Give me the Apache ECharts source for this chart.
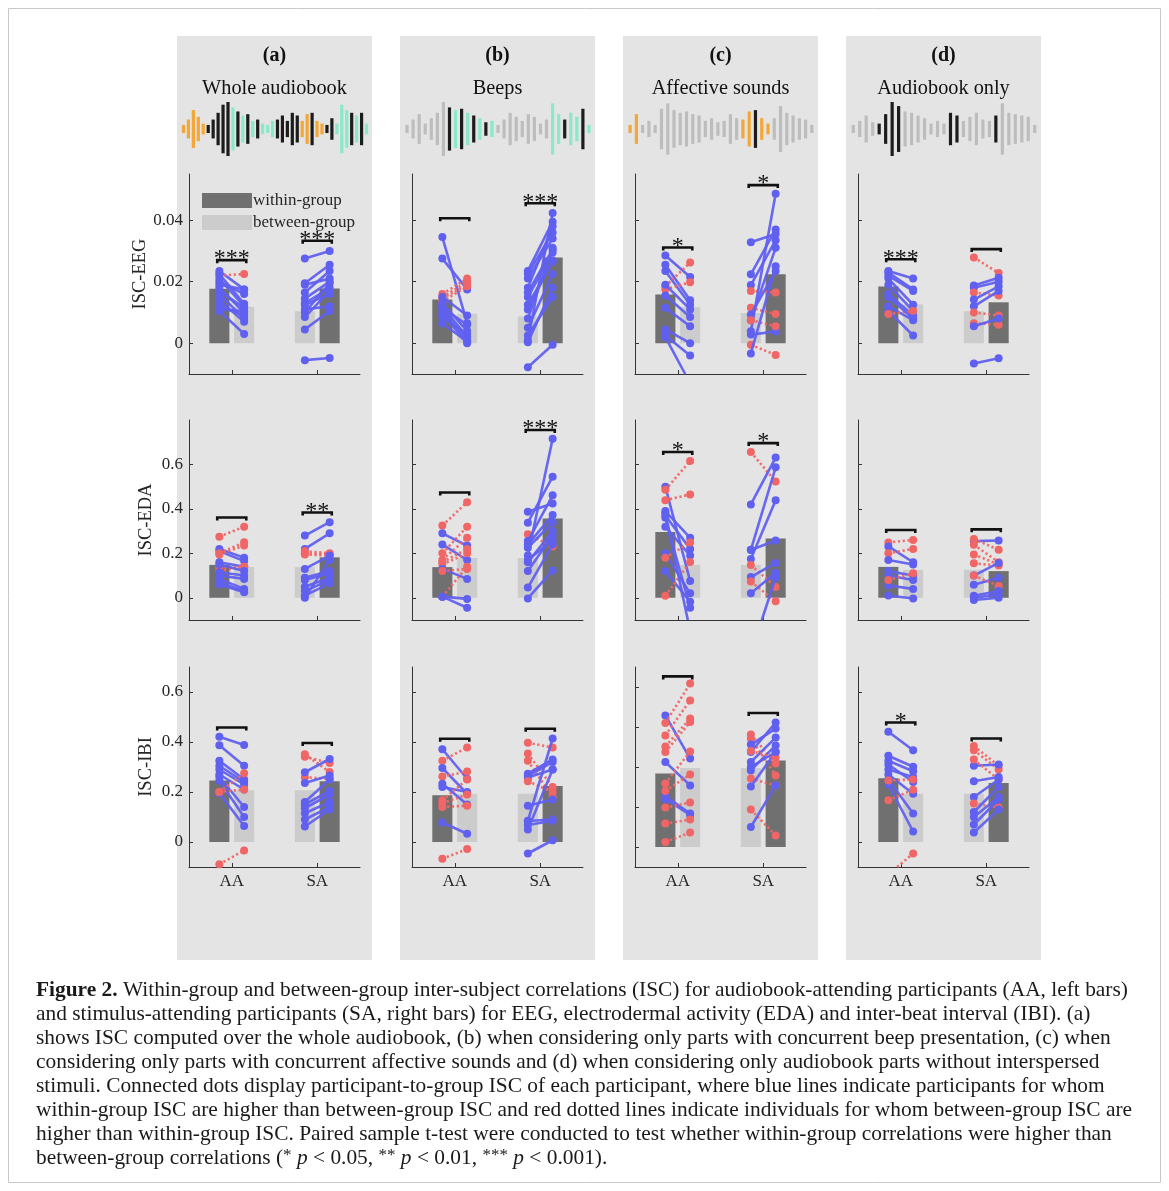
<!DOCTYPE html>
<html><head><meta charset="utf-8">
<script src="https://cdn.jsdelivr.net/npm/echarts@6/dist/echarts.min.js"></script>
<style>html,body{margin:0;padding:0;background:#fff}#c{width:1169px;height:1191px}</style>
</head><body><div id="c"></div><script>
// ================= DATA =================
const groups = ['AA', 'SA'];
const rowNames = ['ISC-EEG', 'ISC-EDA', 'ISC-IBI'];
const panelLetters = ['(a)', '(b)', '(c)', '(d)'];
const panelTitles = ['Whole audiobook', 'Beeps', 'Affective sounds', 'Audiobook only'];
const legendNames = ['within-group', 'between-group'];

const ticksEEG = [0, 0.02, 0.04];
const ticksEDA = [0, 0.2, 0.4, 0.6];
const ticksIBI = [0, 0.2, 0.4, 0.6];
const ticksIBIc = [0, 0.2, 0.4, 0.6, 0.8];
const rangeEEG = [-0.01, 0.055];
const rangeEDA = [-0.1, 0.8];
const rangeIBI = [-0.1, 0.7];
const rangeIBIc = [-0.1, 0.9];

// bar means: columns a,b,c,d
const barEEG_AA_within = [0.0177, 0.0142, 0.0158, 0.0184];
const barEEG_AA_between = [0.0118, 0.0096, 0.0118, 0.0126];
const barEEG_SA_between = [0.0104, 0.0087, 0.0098, 0.0104];
const barEEG_SA_within = [0.0178, 0.0279, 0.0224, 0.0133];
const barEDA_AA_within = [0.148, 0.138, 0.296, 0.139];
const barEDA_AA_between = [0.138, 0.179, 0.148, 0.126];
const barEDA_SA_between = [0.138, 0.179, 0.148, 0.126];
const barEDA_SA_within = [0.182, 0.357, 0.267, 0.120];
const barIBI_AA_within = [0.246, 0.187, 0.367, 0.255];
const barIBI_AA_between = [0.207, 0.193, 0.395, 0.193];
const barIBI_SA_between = [0.207, 0.193, 0.395, 0.193];
const barIBI_SA_within = [0.243, 0.224, 0.433, 0.236];

// significance (number of stars, 0 = n.s.) and bracket height
const sigEEG_AA = [3, 0, 1, 3];  const sigEEG_AA_y = [0.027, 0.0406, 0.0311, 0.0273];
const sigEEG_SA = [3, 3, 1, 0];  const sigEEG_SA_y = [0.0333, 0.0455, 0.0514, 0.0306];
const sigEDA_AA = [0, 0, 1, 0];  const sigEDA_AA_y = [0.361, 0.474, 0.656, 0.305];
const sigEDA_SA = [2, 3, 1, 0];  const sigEDA_SA_y = [0.384, 0.755, 0.696, 0.308];
const sigIBI_AA = [0, 0, 0, 1];  const sigIBI_AA_y = [0.458, 0.413, 0.853, 0.478];
const sigIBI_SA = [0, 0, 0, 0];  const sigIBI_SA_y = [0.396, 0.453, 0.670, 0.414];

// participant values (paired by index)
// ---- EEG ----
const eegA_AA_within  = [0.0235,0.022,0.021,0.020,0.018,0.016,0.012,0.0105,0.011,0.017,0.019,0.014,0.0225];
const eegA_AA_between = [0.0175,0.0225,0.012,0.016,0.010,0.008,0.009,0.003,0.0105,0.0115,0.0175,0.007,0.0128];
const eegA_SA_between = [0.0275,0.0195,0.019,0.0165,0.0145,0.013,0.011,0.010,0.0085,0.0045,-0.0055,0.0125];
const eegA_SA_within  = [0.030,0.0255,0.021,0.0235,0.020,0.018,0.012,0.0195,0.017,0.0105,-0.0048,0.016];
const eegB_AA_within  = [0.0345,0.0275,0.016,0.015,0.0145,0.0135,0.013,0.012,0.0105,0.0095,0.0065,0.0085,0.0115,0.015];
const eegB_AA_between = [0.0065,0.0175,0.021,0.020,0.019,0.0185,0.004,0.002,0.001,0.0,0.0005,0.003,0.006,0.009];
const eegB_SA_between = [0.0235,0.0225,0.021,0.018,0.0165,0.015,0.0125,0.011,0.008,0.005,0.0025,0.001,0.0003,-0.0078];
const eegB_SA_within  = [0.0395,0.036,0.034,0.038,0.0305,0.0295,0.0265,0.027,0.031,0.0225,0.015,0.0423,0.018,-0.0005];
const eegC_AA_within  = [0.0285,0.0255,0.0235,0.0185,0.0175,0.019,0.0155,0.0115,0.0045,0.0025,0.002];
const eegC_AA_between = [0.0215,0.014,0.0125,0.0262,0.0198,0.011,0.0085,0.0055,0.0,-0.004,-0.013];
const eegC_SA_between = [0.0328,0.0224,0.0189,0.017,0.0115,0.0093,0.0075,0.0039,0.0028,0.0075,-0.0005,-0.0033];
const eegC_SA_within  = [0.0355,0.037,0.0335,0.0165,0.0095,0.0235,0.031,0.0486,0.0038,0.0055,-0.0038,0.025];
const eegD_AA_within  = [0.0235,0.023,0.022,0.021,0.019,0.016,0.012,0.0105,0.0095,0.015];
const eegD_AA_between = [0.021,0.0175,0.017,0.0125,0.0105,0.009,0.0075,0.0025,0.0105,0.008];
const eegD_SA_between = [0.0279,0.0188,0.018,0.0165,0.0142,0.012,0.010,0.0065,0.0055,-0.0066];
const eegD_SA_within  = [0.0228,0.0213,0.020,0.0155,0.0185,0.017,0.009,0.006,0.008,-0.0049];
// ---- EDA ----
const edaA_AA_within  = [0.275,0.22,0.21,0.20,0.195,0.16,0.135,0.12,0.115,0.10,0.085,0.07,0.06,0.15];
const edaA_AA_between = [0.32,0.18,0.165,0.25,0.235,0.14,0.14,0.14,0.10,0.085,0.04,0.03,0.025,0.12];
const edaA_SA_between = [0.28,0.22,0.21,0.20,0.195,0.13,0.09,0.08,0.05,0.03,0.01,0.0];
const edaA_SA_within  = [0.34,0.29,0.20,0.195,0.19,0.19,0.12,0.11,0.09,0.08,0.065,0.17];
const edaB_AA_within  = [0.325,0.29,0.24,0.20,0.17,0.16,0.15,0.13,0.005,0.005,0.005,0.12];
const edaB_AA_between = [0.43,0.235,0.17,0.32,0.27,0.22,0.20,0.085,0.14,-0.045,-0.005,0.13];
const edaB_SA_between = [0.387,0.338,0.286,0.255,0.24,0.225,0.19,0.16,0.12,0.046,-0.003,0.17];
const edaB_SA_within  = [0.424,0.545,0.231,0.461,0.372,0.34,0.716,0.30,0.28,0.24,0.123,0.26];
const edaC_AA_within  = [0.5,0.486,0.439,0.39,0.37,0.32,0.2,0.18,0.12,0.009,0.38,0.36];
const edaC_AA_between = [0.075,0.615,0.465,0.27,0.22,0.19,0.02,0.249,-0.018,0.161,-0.15,-0.045];
const edaC_SA_between = [0.656,0.42,0.216,0.175,0.147,0.093,0.073,0.02,0.215,-0.25];
const edaC_SA_within  = [0.523,0.631,0.587,0.439,0.049,0.157,-0.016,0.113,0.258,0.09];
const edaD_AA_within  = [0.249,0.231,0.2,0.17,0.12,0.10,0.055,0.01,0.08];
const edaD_AA_between = [0.26,0.16,0.22,0.15,0.10,0.08,0.04,-0.003,0.11];
const edaD_SA_between = [0.255,0.264,0.239,0.195,0.155,0.1,0.059,0.1,0.009,-0.01,0.0];
const edaD_SA_within  = [0.258,0.216,0.16,0.15,0.145,0.157,0.09,0.053,0.03,0.0,0.015];
// ---- IBI ----
const ibiA_AA_within  = [0.421,0.387,0.325,0.305,0.29,0.27,0.26,0.245,0.196,0.20,0.20,-0.089];
const ibiA_AA_between = [0.388,0.305,0.25,0.24,0.23,0.21,0.14,0.10,0.064,0.275,0.21,-0.034];
const ibiA_SA_between = [0.351,0.341,0.259,0.279,0.236,0.16,0.15,0.135,0.115,0.09,0.062];
const ibiA_SA_within  = [0.28,0.316,0.253,0.332,0.266,0.25,0.205,0.19,0.16,0.14,0.13];
const ibiB_AA_within  = [0.371,0.325,0.296,0.262,0.233,0.22,0.167,0.155,0.14,0.078,-0.067];
const ibiB_AA_between = [0.253,0.378,0.193,0.282,0.15,0.2,0.25,0.19,0.145,0.033,-0.028];
const ibiB_SA_between = [0.397,0.354,0.325,0.273,0.265,0.258,0.243,0.085,0.145,0.084,0.068,0.05,-0.046];
const ibiB_SA_within  = [0.378,0.22,0.18,0.33,0.32,0.29,0.2,0.414,0.17,0.09,0.085,0.29,0.007];
const ibiC_AA_within  = [0.658,0.62,0.558,0.503,0.475,0.425,0.317,0.255,0.24,0.197,0.117,0.025,0.28];
const ibiC_AA_between = [0.442,0.817,0.733,0.642,0.625,0.308,0.478,0.167,0.16,0.222,0.137,0.072,0.363];
const ibiC_SA_between = [0.563,0.542,0.512,0.475,0.425,0.383,0.342,0.303,0.48,0.187,0.1,0.40];
const ibiC_SA_within  = [0.417,0.358,0.592,0.622,0.547,0.508,0.308,0.475,0.447,0.058,0.308,0.475];
const ibiD_AA_within  = [0.441,0.345,0.325,0.31,0.29,0.27,0.25,0.23,0.246,0.167,-0.13];
const ibiD_AA_between = [0.367,0.301,0.283,0.24,0.26,0.193,0.114,0.042,0.25,0.209,-0.046];
const ibiD_SA_between = [0.384,0.367,0.305,0.33,0.243,0.18,0.154,0.12,0.1,0.07,0.038];
const ibiD_SA_within  = [0.305,0.29,0.31,0.25,0.26,0.25,0.138,0.22,0.18,0.17,0.13];

// decorative waveform icons (half-height, colour code 0 grey,1 black,2 orange,3 mint)
const waveA_h = [0.15,0.35,0.7,0.45,0.2,0.15,0.35,0.6,0.9,1.0,0.8,0.65,0.5,0.55,0.3,0.35,0.2,0.15,0.3,0.35,0.5,0.3,0.6,0.5,0.3,0.55,0.6,0.3,0.2,0.15,0.4,0.2,0.9,0.7,0.6,0.5,0.6,0.2];
const waveA_c = [2,2,2,2,2,1,1,1,1,1,3,1,3,1,3,1,3,3,3,1,1,1,1,1,2,2,1,2,2,1,1,3,3,3,1,3,1,3];
const waveB_h = [0.15,0.35,0.55,0.2,0.4,0.6,1.0,0.8,0.7,0.75,0.6,0.5,0.4,0.25,0.3,0.15,0.35,0.6,0.45,0.3,0.55,0.45,0.2,0.35,0.95,0.55,0.35,0.6,0.45,0.75,0.15];
const waveB_c = [0,0,0,0,0,0,0,1,3,1,3,1,3,1,3,0,0,0,0,0,0,0,0,0,3,3,1,3,3,1,3];
const waveC_h = [0.15,0.55,0.15,0.3,0.15,0.75,0.95,0.7,0.6,0.65,0.55,0.5,0.3,0.4,0.25,0.3,0.55,0.4,0.35,0.65,0.7,0.4,0.2,0.4,0.85,0.6,0.5,0.4,0.35,0.15];
const waveC_c = [2,2,0,0,0,0,0,0,0,0,0,0,0,0,0,0,0,0,2,2,1,2,2,0,0,0,0,0,0,0];
const waveD_h = [0.15,0.3,0.5,0.25,0.2,0.55,1.0,0.85,0.65,0.6,0.5,0.4,0.2,0.3,0.2,0.6,0.5,0.3,0.45,0.6,0.35,0.3,0.5,0.95,0.6,0.55,0.5,0.45,0.15];
const waveD_c = [0,0,0,0,1,1,1,1,0,0,0,0,0,0,0,1,1,0,0,0,0,0,1,0,0,0,0,0,0];

const captionLines = [
  '{b|Figure 2.} Within-group and between-group inter-subject correlations (ISC) for audiobook-attending participants (AA, left bars)',
  'and stimulus-attending participants (SA, right bars) for EEG, electrodermal activity (EDA) and inter-beat interval (IBI). (a)',
  'shows ISC computed over the whole audiobook, (b) when considering only parts with concurrent beep presentation, (c) when',
  'considering only parts with concurrent affective sounds and (d) when considering only audiobook parts without interspersed',
  'stimuli. Connected dots display participant-to-group ISC of each participant, where blue lines indicate participants for whom',
  'within-group ISC are higher than between-group ISC and red dotted lines indicate individuals for whom between-group ISC are',
  'higher than within-group ISC. Paired sample t-test were conducted to test whether within-group correlations were higher than',
  'between-group correlations ({a|*} {i|p} < 0.05, {a|**} {i|p} < 0.01, {a|***} {i|p} < 0.001).'
];

// ================= STYLE / LAYOUT =================
const FONT = '"Liberation Serif","Times New Roman",serif';
const BLUE = '#6060f0', RED = '#f06666', DARK = '#707070', LIGHT = '#cccccc';
const AXC = '#333333', TXT = '#262626', PANEL = '#e4e4e4';
const WAVE_COL = ['#bdbdbd', '#1c1c1c', '#f4a636', '#8ae9c8'];
const colLeft = [189, 412, 635, 858];
const plotW = 171;
const rowTop = [174, 420, 667];
const plotH = 200;
const OFF = 0.29, BAR_HW = 0.235, SIG_HW = 0.34;
const CAP_FS = 21.4;

const rowsData = [
  { ticks: [ticksEEG, ticksEEG, ticksEEG, ticksEEG], range: [rangeEEG, rangeEEG, rangeEEG, rangeEEG],
    bar: [barEEG_AA_within, barEEG_AA_between, barEEG_SA_between, barEEG_SA_within],
    sig: [sigEEG_AA, sigEEG_AA_y, sigEEG_SA, sigEEG_SA_y],
    p: [[eegA_AA_within, eegA_AA_between, eegA_SA_between, eegA_SA_within],
        [eegB_AA_within, eegB_AA_between, eegB_SA_between, eegB_SA_within],
        [eegC_AA_within, eegC_AA_between, eegC_SA_between, eegC_SA_within],
        [eegD_AA_within, eegD_AA_between, eegD_SA_between, eegD_SA_within]],
    fmt: v => v === 0 ? '0' : v.toFixed(2) },
  { ticks: [ticksEDA, ticksEDA, ticksEDA, ticksEDA], range: [rangeEDA, rangeEDA, rangeEDA, rangeEDA],
    bar: [barEDA_AA_within, barEDA_AA_between, barEDA_SA_between, barEDA_SA_within],
    sig: [sigEDA_AA, sigEDA_AA_y, sigEDA_SA, sigEDA_SA_y],
    p: [[edaA_AA_within, edaA_AA_between, edaA_SA_between, edaA_SA_within],
        [edaB_AA_within, edaB_AA_between, edaB_SA_between, edaB_SA_within],
        [edaC_AA_within, edaC_AA_between, edaC_SA_between, edaC_SA_within],
        [edaD_AA_within, edaD_AA_between, edaD_SA_between, edaD_SA_within]],
    fmt: v => v === 0 ? '0' : v.toFixed(1) },
  { ticks: [ticksIBI, ticksIBI, ticksIBIc, ticksIBI], range: [rangeIBI, rangeIBI, rangeIBIc, rangeIBI],
    bar: [barIBI_AA_within, barIBI_AA_between, barIBI_SA_between, barIBI_SA_within],
    sig: [sigIBI_AA, sigIBI_AA_y, sigIBI_SA, sigIBI_SA_y],
    p: [[ibiA_AA_within, ibiA_AA_between, ibiA_SA_between, ibiA_SA_within],
        [ibiB_AA_within, ibiB_AA_between, ibiB_SA_between, ibiB_SA_within],
        [ibiC_AA_within, ibiC_AA_between, ibiC_SA_between, ibiC_SA_within],
        [ibiD_AA_within, ibiD_AA_between, ibiD_SA_between, ibiD_SA_within]],
    fmt: v => v === 0 ? '0' : v.toFixed(1) }
];
const waves = [[waveA_h, waveA_c], [waveB_h, waveB_c], [waveC_h, waveC_c], [waveD_h, waveD_c]];

// ================= RENDERERS =================
function renderBar(params, api) {
  const x = api.value(0), v = api.value(1);
  const a = api.coord([x - BAR_HW, v]), b = api.coord([x + BAR_HW, 0]);
  return { type: 'rect', shape: { x: a[0], y: Math.min(a[1], b[1]), width: b[0] - a[0], height: Math.abs(b[1] - a[1]) },
           style: { fill: api.visual('color') } };
}
function makePairRender(ymin, ymax) {
  return function (params, api) {
    const A = [api.value(0), api.value(1)], B = [api.value(2), api.value(3)];
    const blue = api.value(4) === 1;
    const col = blue ? BLUE : RED;
    const clip = (p, q) => {
      if (p[1] < ymin) { const t = (ymin - p[1]) / (q[1] - p[1]); return [p[0] + t * (q[0] - p[0]), ymin]; }
      if (p[1] > ymax) { const t = (ymax - p[1]) / (q[1] - p[1]); return [p[0] + t * (q[0] - p[0]), ymax]; }
      return p;
    };
    const P1 = api.coord(clip(A, B)), P2 = api.coord(clip(B, A));
    const children = [{ type: 'line', shape: { x1: P1[0], y1: P1[1], x2: P2[0], y2: P2[1] },
      style: { stroke: col, lineWidth: 2.6, lineDash: blue ? null : [2.2, 2.6], opacity: 0.95 } }];
    [A, B].forEach(p => {
      if (p[1] >= ymin && p[1] <= ymax) {
        const c = api.coord(p);
        children.push({ type: 'circle', shape: { cx: c[0], cy: c[1], r: 4 }, style: { fill: col } });
      }
    });
    return { type: 'group', children };
  };
}
function renderSig(params, api) {
  const xc = api.value(0), y = api.value(1), n = api.value(2);
  const L = api.coord([xc - SIG_HW, y]), R = api.coord([xc + SIG_HW, y]);
  const children = [{ type: 'polyline', shape: { points: [[L[0], L[1] + 3], [L[0], L[1]], [R[0], R[1]], [R[0], R[1] + 3]] },
    style: { stroke: '#111', lineWidth: 2.6, fill: null } }];
  if (n > 0) children.push({ type: 'text', x: (L[0] + R[0]) / 2, y: L[1] - 1,
    style: { text: '*'.repeat(n), font: '24px ' + FONT, align: 'center', verticalAlign: 'middle', fill: '#111' } });
  return { type: 'group', children };
}
function renderWave(params, api) {
  const i = api.value(0), h = api.value(1), c = api.value(2);
  const a = api.coord([i, h]), b = api.coord([i, -h]);
  return { type: 'line', shape: { x1: a[0], y1: a[1], x2: b[0], y2: b[1] },
           style: { stroke: WAVE_COL[c], lineWidth: 3.2 } };
}

// ================= BUILD OPTION =================
const grid = [], xAxis = [], yAxis = [], series = [], graphic = [];

for (let c = 0; c < 4; c++) {
  const pl = colLeft[c] - 12, pw = 195;
  graphic.push({ type: 'rect', z: -10, shape: { x: pl, y: 36, width: pw, height: 924 }, style: { fill: PANEL } });
  graphic.push({ type: 'text', x: pl + pw / 2, y: 56, style: { text: panelLetters[c], font: 'bold 20px ' + FONT, fill: '#111', align: 'center', verticalAlign: 'middle' } });
  graphic.push({ type: 'text', x: pl + pw / 2, y: 89, style: { text: panelTitles[c], font: '20.3px ' + FONT, fill: '#111', align: 'center', verticalAlign: 'middle' } });
  const g = grid.length;
  grid.push({ left: pl + 4, top: 102, width: 188, height: 54 });
  const [wh, wc] = waves[c];
  xAxis.push({ gridIndex: g, type: 'value', min: -0.5, max: wh.length - 0.5, show: false });
  yAxis.push({ gridIndex: g, type: 'value', min: -1, max: 1, show: false });
  series.push({ type: 'custom', xAxisIndex: g, yAxisIndex: g, renderItem: renderWave, silent: true,
    data: wh.map((h, i) => [i, h, wc[i]]) });
}

for (let r = 0; r < 3; r++) {
  const rd = rowsData[r];
  for (let c = 0; c < 4; c++) {
    const g = grid.length;
    grid.push({ left: colLeft[c], top: rowTop[r], width: plotW, height: plotH });
    xAxis.push({ gridIndex: g, type: 'value', min: 0, max: 4,
      axisLine: { show: true, onZero: false, lineStyle: { color: AXC, width: 1 } },
      axisTick: { show: true, inside: true, length: 4, customValues: [1, 3], lineStyle: { color: AXC } },
      axisLabel: { show: r === 2, customValues: [1, 3], formatter: v => groups[v < 2 ? 0 : 1], fontFamily: FONT, fontSize: 17, color: TXT, margin: 6 },
      splitLine: { show: false } });
    const rng = rd.range[c], tk = rd.ticks[c];
    yAxis.push({ gridIndex: g, type: 'value', min: rng[0], max: rng[1],
      name: c === 0 ? rowNames[r] : '', nameLocation: 'middle', nameRotate: 90, nameGap: 33,
      nameTextStyle: { fontFamily: FONT, fontSize: 18.5, color: TXT },
      axisLine: { show: true, onZero: false, lineStyle: { color: AXC, width: 1 } },
      axisTick: { show: true, inside: true, length: 4, customValues: tk, lineStyle: { color: AXC } },
      axisLabel: { show: c === 0, customValues: tk, formatter: rd.fmt, fontFamily: FONT, fontSize: 17, color: TXT, margin: 6 },
      splitLine: { show: false } });
    series.push({ type: 'custom', name: legendNames[0], xAxisIndex: g, yAxisIndex: g, renderItem: renderBar,
      itemStyle: { color: DARK }, data: [[1 - OFF, rd.bar[0][c]], [3 + OFF, rd.bar[3][c]]], z: 2 });
    series.push({ type: 'custom', name: legendNames[1], xAxisIndex: g, yAxisIndex: g, renderItem: renderBar,
      itemStyle: { color: LIGHT }, data: [[1 + OFF, rd.bar[1][c]], [3 - OFF, rd.bar[2][c]]], z: 2 });
    const [aw, ab, sb, sw] = rd.p[c];
    const pd = [];
    aw.forEach((w, i) => pd.push([1 - OFF, w, 1 + OFF, ab[i], w > ab[i] ? 1 : 0]));
    sw.forEach((w, i) => pd.push([3 - OFF, sb[i], 3 + OFF, w, w > sb[i] ? 1 : 0]));
    series.push({ type: 'custom', xAxisIndex: g, yAxisIndex: g, renderItem: makePairRender(rng[0], rng[1]), data: pd, z: 3, silent: true });
    series.push({ type: 'custom', xAxisIndex: g, yAxisIndex: g, renderItem: renderSig, z: 4, silent: true,
      data: [[1, rd.sig[1][c], rd.sig[0][c]], [3, rd.sig[3][c], rd.sig[2][c]]] });
  }
}

captionLines.forEach((t, i) => {
  graphic.push({ type: 'text', x: 36, y: 990 + i * 24.1, style: { text: t, font: CAP_FS + 'px ' + FONT, fill: '#1a1a1a', align: 'left', verticalAlign: 'middle',
    rich: { b: { fontWeight: 'bold', fontSize: CAP_FS, fontFamily: FONT }, i: { fontStyle: 'italic', fontSize: CAP_FS, fontFamily: FONT }, a: { fontSize: 17, fontFamily: FONT, padding: [0, 0, 6, 0] } } } });
});
graphic.push({ type: 'rect', z: -20, shape: { x: 8.5, y: 8.5, width: 1152, height: 1174 }, style: { fill: null, stroke: '#c8c8c8', lineWidth: 1 } });

const option = {
  backgroundColor: '#ffffff',
  animation: false,
  legend: { data: legendNames, left: 197, top: 187, orient: 'vertical', icon: 'rect', itemWidth: 50, itemHeight: 15, itemGap: 5,
    textStyle: { fontFamily: FONT, fontSize: 17, color: TXT, padding: [0, 0, 0, -4] }, selectedMode: false },
  grid, xAxis, yAxis, series,
  graphic: { elements: graphic }
};
const chart = echarts.init(document.getElementById('c'), null, { renderer: 'canvas' });
chart.setOption(option);
</script></body></html>
